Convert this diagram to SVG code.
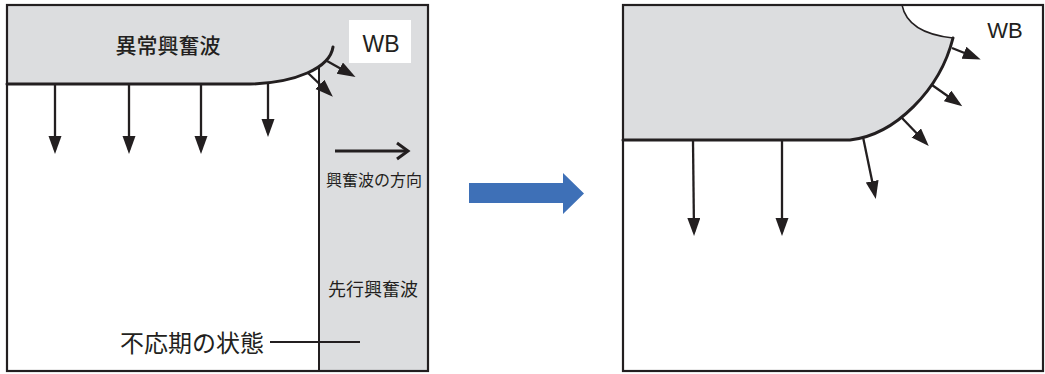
<svg xmlns="http://www.w3.org/2000/svg" width="1045" height="374" viewBox="0 0 1045 374">
  <style>
    .frame { fill: none; stroke: #231f20; stroke-width: 2.2; }
    .front { fill: none; stroke: #231f20; stroke-width: 3; stroke-linecap: round; }
    .thin { fill: none; stroke: #231f20; stroke-width: 1.5; }
    .rule { fill: none; stroke: #231f20; stroke-width: 2; }
    .arrow { fill: none; stroke: #231f20; stroke-width: 2.3; marker-end: url(#head); }
    .label { font-family: "Noto Sans CJK JP", "Noto Sans", sans-serif; fill: #231f20; text-anchor: middle; }
    .latin { font-family: "Liberation Sans", Arial, sans-serif; fill: #231f20; text-anchor: middle; }
  </style>
  <defs>
    <marker id="head" markerUnits="userSpaceOnUse" markerWidth="20" markerHeight="14" refX="14" refY="6.5" orient="auto">
      <path d="M0,0 L18,6.5 L0,13 Z" fill="#231f20"/>
    </marker>
    <clipPath id="leftWhite">
      <rect x="7" y="0" width="312" height="372"/>
    </clipPath>
  </defs>

  <!-- left panel: abnormal wave and preceding wave -->
  <g id="left-panel">
    <rect x="7" y="5" width="421" height="366" fill="#dcdddf"/>
    <path d="M7,84 H250 C295,83 330,68 333,47 V371 H7 Z" fill="#ffffff" clip-path="url(#leftWhite)"/>
    <rect x="7" y="5" width="421" height="366" class="frame"/>
    <line x1="319" y1="66" x2="319" y2="371" class="rule"/>
    <path d="M7,84 H250 C295,83 330,68 333,47" class="front"/>
  </g>

  <g id="wb-left">
    <rect x="349" y="20" width="62" height="43" fill="#ffffff"/>
    <text x="381" y="52" class="latin" font-size="23">WB</text>
  </g>

  <g id="label-abnormal">
    <text x="168" y="53" class="label" font-size="21" font-weight="500">異常興奮波</text>
  </g>

  <g id="label-direction">
    <line x1="335" y1="151" x2="407" y2="151" stroke="#231f20" stroke-width="3"/>
    <polyline points="397,143 408,151 397,159" fill="none" stroke="#231f20" stroke-width="3" stroke-linejoin="miter"/>
    <text x="374" y="185.5" class="label" font-size="16">興奮波の方向</text>
  </g>

  <g id="label-preceding">
    <text x="373" y="295.5" class="label" font-size="18">先行興奮波</text>
  </g>

  <g id="label-refractory">
    <text x="120" y="351.5" class="label" font-size="24" style="text-anchor:start">不応期の状態</text>
    <line x1="270" y1="342" x2="360" y2="342" class="rule"/>
  </g>

  <!-- transition arrow -->
  <g id="transition">
    <path d="M469,183 H563 V173 L584,193.5 L563,214 V203 H469 Z" fill="#3e70b7"/>
  </g>

  <!-- right panel: wave turning around the block -->
  <g id="right-panel">
    <rect x="623" y="5" width="420" height="366" fill="#ffffff"/>
    <path d="M623,5 H902 C906,25 925,35 953,38 C940,90 895,135 850,140 H623 Z" fill="#dcdddf"/>
    <rect x="623" y="5" width="420" height="366" class="frame"/>
    <path d="M902,5 C906,25 925,35 953,38" class="thin"/>
    <path d="M623,140 H850 C895,135 940,90 953,38" class="front"/>
  </g>

  <g id="wb-right">
    <text x="1005" y="38" class="latin" font-size="22">WB</text>
  </g>

  <g id="connectors">
    <!-- left panel wavefront arrows -->
    <line x1="55" y1="85" x2="55" y2="150" class="arrow"/>
    <line x1="129" y1="85" x2="129" y2="150" class="arrow"/>
    <line x1="201" y1="85" x2="201" y2="150" class="arrow"/>
    <line x1="268" y1="83" x2="268" y2="133" class="arrow"/>
    <line x1="308" y1="73" x2="330" y2="94" class="arrow"/>
    <line x1="327" y1="61" x2="352" y2="75" class="arrow"/>
    <!-- right panel wavefront arrows -->
    <line x1="693" y1="141" x2="694" y2="232" class="arrow"/>
    <line x1="782" y1="141" x2="782" y2="232" class="arrow"/>
    <line x1="863" y1="137" x2="875" y2="195" class="arrow"/>
    <line x1="902" y1="118" x2="926" y2="143" class="arrow"/>
    <line x1="932" y1="85" x2="959" y2="104" class="arrow"/>
    <line x1="952" y1="48" x2="977" y2="58" class="arrow"/>
  </g>
</svg>
